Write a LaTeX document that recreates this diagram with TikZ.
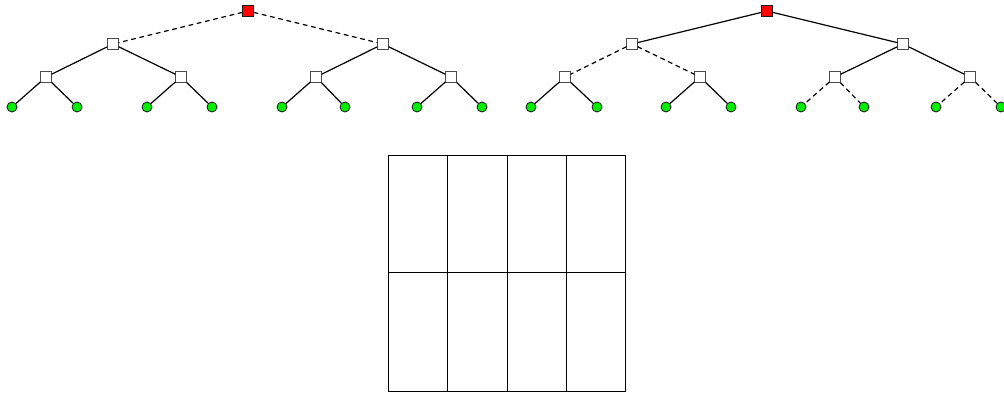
\documentclass[tikz,border=0pt]{standalone}
\usetikzlibrary{positioning}
\definecolor{rootred}{HTML}{FF0000}
\definecolor{leafgreen}{HTML}{00EE00}
\definecolor{ink}{HTML}{1A1A1A}
\tikzset{
  basenode/.style={draw=ink,inner sep=0pt,line width=0.6pt},
  rootbox/.style={basenode,rectangle,fill=rootred,minimum size=0.26cm},
  innerbox/.style={basenode,rectangle,fill=white,draw=black!70,minimum size=0.26cm},
  leafdot/.style={basenode,circle,fill=leafgreen,minimum size=0.25cm},
  edge/.style={line width=0.85pt,draw=black},
  dashedge/.style={edge,dash pattern=on 3.4pt off 2.6pt},
  cellgrid/.style={line width=0.6pt,draw=black}
}

\begin{document}
\begin{tikzpicture}[x=0.025cm,y=-0.025cm]
    \useasboundingbox (0,0) rectangle (1004,394);

    % first tree
    \node[rootbox] (a) at (248,11) {};
    \node[innerbox] (al) at (113,44) {};
    \node[innerbox] (ar) at (383,44) {};
    \node[innerbox] (all) at (46,77) {};
    \node[innerbox] (alr) at (181,77) {};
    \node[innerbox] (arl) at (316,77) {};
    \node[innerbox] (arr) at (451,77) {};
    \node[leafdot] (a1) at (12,107) {};
    \node[leafdot] (a2) at (77,107) {};
    \node[leafdot] (a3) at (147,107) {};
    \node[leafdot] (a4) at (212,107) {};
    \node[leafdot] (a5) at (282,107) {};
    \node[leafdot] (a6) at (345,107) {};
    \node[leafdot] (a7) at (417,107) {};
    \node[leafdot] (a8) at (482,107) {};

    \draw[dashedge] (a) -- (al);
    \draw[dashedge] (a) -- (ar);
    \draw[edge] (al) -- (all);
    \draw[edge] (al) -- (alr);
    \draw[edge] (ar) -- (arl);
    \draw[edge] (ar) -- (arr);
    \draw[edge] (all) -- (a1);
    \draw[edge] (all) -- (a2);
    \draw[edge] (alr) -- (a3);
    \draw[edge] (alr) -- (a4);
    \draw[edge] (arl) -- (a5);
    \draw[edge] (arl) -- (a6);
    \draw[edge] (arr) -- (a7);
    \draw[edge] (arr) -- (a8);

    % second tree
    \node[rootbox] (b) at (767,11) {};
    \node[innerbox] (bl) at (632,44) {};
    \node[innerbox] (br) at (903,44) {};
    \node[innerbox] (bll) at (565,77) {};
    \node[innerbox] (blr) at (700,77) {};
    \node[innerbox] (brl) at (835,77) {};
    \node[innerbox] (brr) at (970,77) {};
    \node[leafdot] (b1) at (531,107) {};
    \node[leafdot] (b2) at (597,107) {};
    \node[leafdot] (b3) at (666,107) {};
    \node[leafdot] (b4) at (731,107) {};
    \node[leafdot] (b5) at (801,107) {};
    \node[leafdot] (b6) at (864,107) {};
    \node[leafdot] (b7) at (936,107) {};
    \node[leafdot] (b8) at (1001,107) {};

    \draw[edge] (b) -- (bl);
    \draw[edge] (b) -- (br);
    \draw[dashedge] (bl) -- (bll);
    \draw[dashedge] (bl) -- (blr);
    \draw[edge] (br) -- (brl);
    \draw[edge] (br) -- (brr);
    \draw[edge] (bll) -- (b1);
    \draw[edge] (bll) -- (b2);
    \draw[edge] (blr) -- (b3);
    \draw[edge] (blr) -- (b4);
    \draw[dashedge] (brl) -- (b5);
    \draw[dashedge] (brl) -- (b6);
    \draw[dashedge] (brr) -- (b7);
    \draw[dashedge] (brr) -- (b8);

    % grid of cells
    \draw[cellgrid] (388,155) rectangle (625,391);
    \draw[cellgrid] (388,272) -- (625,272);
    \draw[cellgrid] (447,155) -- (447,391);
    \draw[cellgrid] (507,155) -- (507,391);
    \draw[cellgrid] (566,155) -- (566,391);
\end{tikzpicture}
\end{document}
